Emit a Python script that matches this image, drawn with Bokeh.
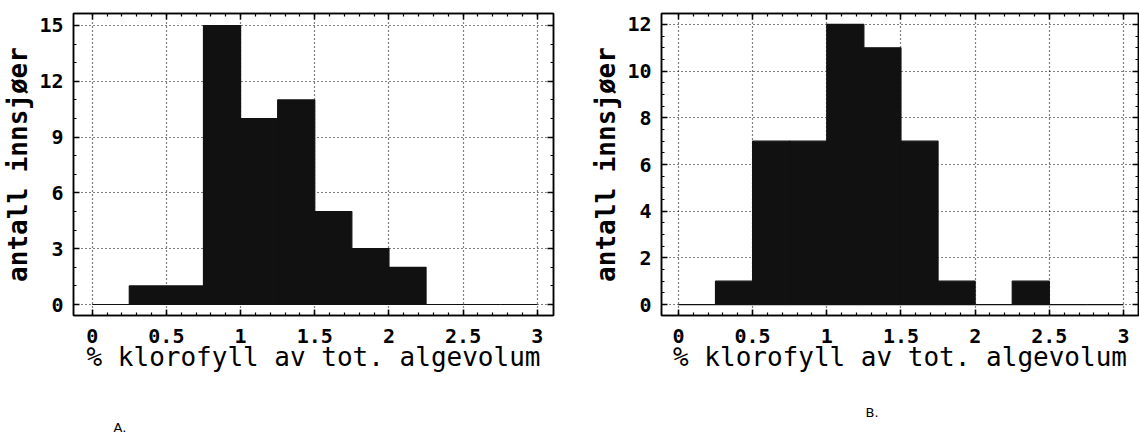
from bokeh.plotting import figure
from bokeh.models import Range1d, FixedTicker, LinearAxis, Label, CustomJSTickFormatter
from bokeh.layouts import row, column
from bokeh.embed import file_html
from bokeh.resources import INLINE

# ---- data ----
bin_edges = [0.0, 0.25, 0.5, 0.75, 1.0, 1.25, 1.5, 1.75, 2.0, 2.25, 2.5, 2.75, 3.0]
counts_a = [0, 1, 1, 15, 10, 11, 5, 3, 2, 0, 0, 0]
counts_b = [0, 1, 7, 7, 12, 11, 7, 1, 0, 1, 0, 0]
x_ticks = [0, 0.5, 1, 1.5, 2, 2.5, 3]
x_tick_labels = ["0", "0.5", "1", "1.5", "2", "2.5", "3"]
x_minor = [round(i * 0.1, 2) for i in range(0, 31)]
y_ticks_a = [0, 3, 6, 9, 12, 15]
y_minor_a = list(range(0, 16))
y_ticks_b = [0, 2, 4, 6, 8, 10, 12]
y_minor_b = [i * 0.5 for i in range(0, 25)]
x_label = "% klorofyll av tot. algevolum"
y_label = "antall innsjøer"
panel_labels = ["A.", "B."]

MONO = "DejaVu Sans Mono"
INK = "#111111"


def make_chart(counts, y_ticks, y_minor, y_start, y_end, x_start, x_end,
               fig_width, border_left, border_right):
    p = figure(width=fig_width, height=385,
               x_range=Range1d(x_start, x_end), y_range=Range1d(y_start, y_end),
               output_backend="svg", toolbar_location=None, title=None,
               min_border_left=border_left, min_border_right=border_right,
               min_border_top=13, min_border_bottom=70,
               x_axis_label=x_label, y_axis_label=y_label)
    p.background_fill_color = "white"
    p.border_fill_color = "white"
    p.outline_line_color = "black"
    p.outline_line_width = 1.5

    xt = FixedTicker(ticks=x_ticks, minor_ticks=x_minor)
    yt = FixedTicker(ticks=y_ticks, minor_ticks=y_minor)

    p.quad(left=bin_edges[:-1], right=bin_edges[1:], bottom=0, top=counts,
           fill_color=INK, line_color=INK, line_width=1.2)

    for g, t in ((p.xgrid[0], xt), (p.ygrid[0], yt)):
        g.ticker = t
        g.grid_line_color = "black"
        g.grid_line_dash = "1 3"
        g.grid_line_width = 1.2
        g.grid_line_alpha = 1.0

    bx = p.xaxis[0]
    bx.ticker = xt
    bx.major_label_overrides = {float(v): s for v, s in zip(x_ticks, x_tick_labels)}
    ly = p.yaxis[0]
    ly.ticker = yt
    ly.major_label_overrides = {float(v): str(v) for v in y_ticks}

    top = LinearAxis(ticker=xt, formatter=CustomJSTickFormatter(code="return ''"))
    right = LinearAxis(ticker=yt, formatter=CustomJSTickFormatter(code="return ''"))
    for ax in (top, right):
        ax.major_label_text_font_size = "1px"
        ax.major_label_standoff = 0
    p.add_layout(top, "above")
    p.add_layout(right, "right")

    for ax in (bx, ly, top, right):
        ax.major_tick_in = 6
        ax.major_tick_out = 0
        ax.minor_tick_in = 3
        ax.minor_tick_out = 0
        ax.axis_line_color = "black"
        ax.axis_line_width = 1.5
        ax.major_tick_line_color = "black"
        ax.major_tick_line_width = 1.5
        ax.minor_tick_line_color = "black"
        ax.minor_tick_line_width = 1.2

    for ax in (bx, ly):
        ax.major_label_text_font = MONO
        ax.major_label_text_font_style = "bold"
        ax.major_label_text_font_size = "20px"
        ax.major_label_text_color = "black"
        ax.axis_label_text_font = MONO
        ax.axis_label_text_color = "black"
        ax.axis_label_text_font_size = "26px"
    bx.major_label_standoff = 13
    bx.axis_label_standoff = -4
    bx.axis_label_text_font_style = "normal"
    ly.major_label_standoff = 10
    ly.axis_label_standoff = 3
    ly.axis_label_text_font_style = "bold"
    return p


p1 = make_chart(counts_a, y_ticks_a, y_minor_a, -0.59, 15.645, -0.126, 3.109,
                588, 72, 35)
p2 = make_chart(counts_b, y_ticks_b, y_minor_b, -0.47, 12.47, -0.114, 3.101,
                551, 72, 1)

# strip underneath the two charts holding the panel captions "A." and "B."
cap = figure(width=1139, height=54, output_backend="svg", toolbar_location=None,
             title=None, min_border=0, x_range=Range1d(0, 1), y_range=Range1d(0, 1))
cap.axis.visible = False
cap.grid.visible = False
cap.outline_line_color = None
cap.background_fill_color = "white"
cap.border_fill_color = "white"
for txt, sx, sy in zip(panel_labels, [113, 865], [12, 27]):
    cap.add_layout(Label(x=sx, y=sy, x_units="screen", y_units="screen",
                         text=txt, text_font="DejaVu Sans", text_font_size="13px",
                         text_align="left", text_baseline="middle",
                         text_color="black"))

layout = column(row(p1, p2), cap)
open("out.html", "w").write(file_html(layout, INLINE))
